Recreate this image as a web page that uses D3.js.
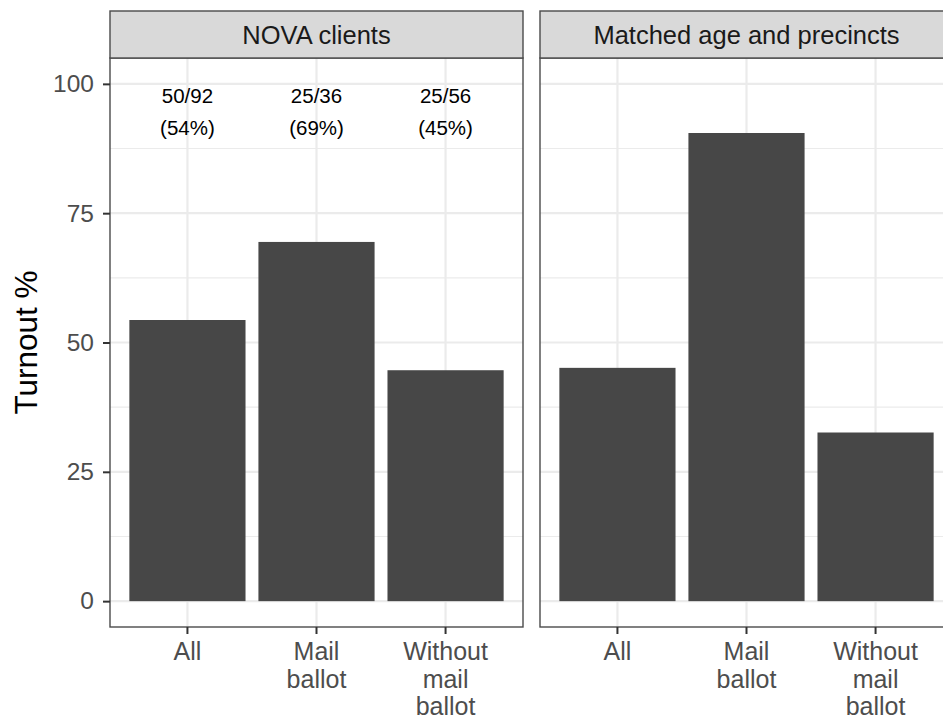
<!DOCTYPE html>
<html>
<head>
<meta charset="utf-8">
<script src="https://cdn.jsdelivr.net/npm/d3@7"></script>
<style>
  html, body { margin: 0; padding: 0; background: #fff; }
  svg { display: block; font-family: "Liberation Sans", Arial, sans-serif; }
</style>
</head>
<body>
<svg id="chart" width="943" height="721"></svg>
<script>
// ---- data ----
const categories = ["All", "Mail ballot", "Without mail ballot"];
const categoryLabelLines = [["All"], ["Mail", "ballot"], ["Without", "mail", "ballot"]];
const panelTitles = ["NOVA clients", "Matched age and precincts"];
const novaTurnout = [54.35, 69.44, 44.64];
const matchedTurnout = [45.1, 90.5, 32.6];
const countLabels = ["50/92", "25/36", "25/56"];
const percentLabels = ["(54%)", "(69%)", "(45%)"];
const yTicks = [0, 25, 50, 75, 100];
const yMinorTicks = [12.5, 37.5, 62.5, 87.5];
const yTitle = "Turnout %";

const panelValues = [novaTurnout, matchedTurnout];

// ---- layout ----
const svg = d3.select("#chart");
const panelW = 413;
const panelX = [110, 540];
const stripTop = 11, panelTop = 58, panelBottom = 627;

const y = d3.scaleLinear().domain([-5, 105]).range([panelBottom, panelTop]);
const x = d3.scaleBand().domain(categories).range([0, panelW])
  .paddingInner(0.1).paddingOuter(0.15);

const gridCol = "#EBEBEB", borderCol = "#4a4a4a", barCol = "#474747";

panelTitles.forEach((title, pi) => {
  const g = svg.append("g").attr("transform", `translate(${panelX[pi]},0)`);

  g.append("rect").attr("x", 0).attr("y", panelTop).attr("width", panelW)
    .attr("height", panelBottom - panelTop).attr("fill", "#fff");

  g.selectAll(".minor").data(yMinorTicks).join("line")
    .attr("x1", 0).attr("x2", panelW)
    .attr("y1", d => y(d)).attr("y2", d => y(d))
    .attr("stroke", gridCol).attr("stroke-width", 1.1);
  g.selectAll(".major").data(yTicks).join("line")
    .attr("x1", 0).attr("x2", panelW)
    .attr("y1", d => y(d)).attr("y2", d => y(d))
    .attr("stroke", gridCol).attr("stroke-width", 2.2);
  g.selectAll(".vgrid").data(categories).join("line")
    .attr("x1", d => x(d) + x.bandwidth() / 2).attr("x2", d => x(d) + x.bandwidth() / 2)
    .attr("y1", panelTop).attr("y2", panelBottom)
    .attr("stroke", gridCol).attr("stroke-width", 2.2);

  g.selectAll(".bar").data(panelValues[pi]).join("rect")
    .attr("x", (d, i) => x(categories[i]))
    .attr("width", x.bandwidth())
    .attr("y", d => y(d))
    .attr("height", d => y(0) - y(d))
    .attr("fill", barCol);

  if (pi === 0) {
    g.selectAll(".cnt").data(countLabels).join("text")
      .attr("x", (d, i) => x(categories[i]) + x.bandwidth() / 2)
      .attr("y", y(100) + 19.5)
      .attr("text-anchor", "middle").attr("font-size", 20.5).attr("fill", "#000")
      .text(d => d);
    g.selectAll(".pct").data(percentLabels).join("text")
      .attr("x", (d, i) => x(categories[i]) + x.bandwidth() / 2)
      .attr("y", y(100) + 51)
      .attr("text-anchor", "middle").attr("font-size", 20.5).attr("fill", "#000")
      .text(d => d);
  }

  g.append("rect").attr("x", 0).attr("y", panelTop).attr("width", panelW)
    .attr("height", panelBottom - panelTop).attr("fill", "none")
    .attr("stroke", borderCol).attr("stroke-width", 1.4);

  g.append("rect").attr("x", 0).attr("y", stripTop).attr("width", panelW)
    .attr("height", panelTop - stripTop).attr("fill", "#D9D9D9")
    .attr("stroke", borderCol).attr("stroke-width", 1.4);
  g.append("text").attr("x", panelW / 2).attr("y", (stripTop + panelTop) / 2)
    .attr("dy", "0.36em").attr("text-anchor", "middle")
    .attr("font-size", 25.5).attr("fill", "#1A1A1A").text(title);

  const xAxis = g.append("g").attr("transform", `translate(0,${panelBottom})`)
    .call(d3.axisBottom(x).tickSize(7).tickFormat(""));
  xAxis.select(".domain").remove();
  xAxis.selectAll(".tick line").attr("stroke", "#333").attr("stroke-width", 2);
  const lbl = g.selectAll(".xlbl").data(categoryLabelLines).join("text")
    .attr("text-anchor", "middle").attr("font-size", 25).attr("fill", "#4D4D4D")
    .attr("x", (d, i) => x(categories[i]) + x.bandwidth() / 2);
  lbl.each(function (lines, i) {
    d3.select(this).selectAll("tspan").data(lines).join("tspan")
      .attr("x", x(categories[i]) + x.bandwidth() / 2)
      .attr("y", (d, k) => panelBottom + 33 + k * 27.5)
      .text(d => d);
  });
});

const yAxis = svg.append("g").attr("transform", `translate(${panelX[0]},0)`)
  .call(d3.axisLeft(y).tickValues(yTicks).tickSize(7).tickPadding(9));
yAxis.select(".domain").remove();
yAxis.selectAll(".tick line").attr("stroke", "#333").attr("stroke-width", 2);
yAxis.selectAll(".tick text").attr("font-size", 24.5).attr("fill", "#4D4D4D")
  .attr("font-family", "Liberation Sans, Arial, sans-serif");

svg.append("text")
  .attr("transform", `translate(26,${(panelTop + panelBottom) / 2}) rotate(-90)`)
  .attr("text-anchor", "middle").attr("dy", "0.36em")
  .attr("font-size", 31.5).attr("fill", "#000").text(yTitle);
</script>
</body>
</html>
